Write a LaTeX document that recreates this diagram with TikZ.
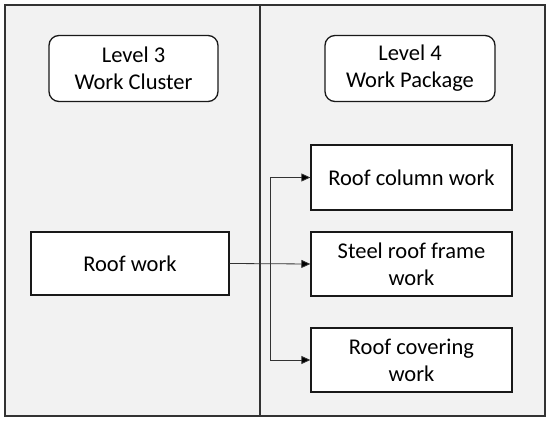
\documentclass[tikz,border=0pt]{standalone}
\usepackage{fontspec}
\setmainfont{Carlito}
\usetikzlibrary{arrows.meta}
\begin{document}
\begin{tikzpicture}[x=1pt,y=-1pt,
  panel/.style={draw=black!80,line width=1.2pt,fill=black!5},
  lvlbox/.style={draw=black!90,line width=1.3pt,fill=white,rounded corners=10pt,align=center,font=\fontsize{22.5}{27}\selectfont,inner sep=0pt},
  taskbox/.style={draw=black!90,line width=1.3pt,fill=white,align=center,font=\fontsize{22.5}{27}\selectfont,inner sep=0pt},
  conn/.style={draw=black!80,line width=0.8pt},
  arr/.style={conn,-{Triangle[length=9pt,width=8pt,fill=black]}}]
\useasboundingbox (0,0) rectangle (550,422);
\fill[white] (0,0) rectangle (550,422);
\path[panel] (5,5) rectangle (260,416);
\path[panel] (260,5) rectangle (545,416);
\node[lvlbox,minimum width=169pt,minimum height=66pt] (l3) at (133.5,68.5) {Level 3\\Work Cluster};
\node[lvlbox,minimum width=170pt,minimum height=66pt] (l4) at (410,68.5) {Level 4\\Work Package};
\node[taskbox,minimum width=198pt,minimum height=63pt] (rw) at (130,263.5) {Roof work};
\node[taskbox,minimum width=201pt,minimum height=65pt] (rc) at (411.5,177.5) {Roof column work};
\node[taskbox,minimum width=201pt,minimum height=64pt] (sf) at (411.5,264) {Steel roof frame\\work};
\node[taskbox,minimum width=201pt,minimum height=64pt] (cov) at (411.5,360) {Roof covering\\work};
\coordinate (j) at (270,264);
\draw[arr] (rw.east) -- (sf.west);
\draw[arr] (j) |- (rc.west);
\draw[arr] (j) |- (cov.west);
\end{tikzpicture}
\end{document}
